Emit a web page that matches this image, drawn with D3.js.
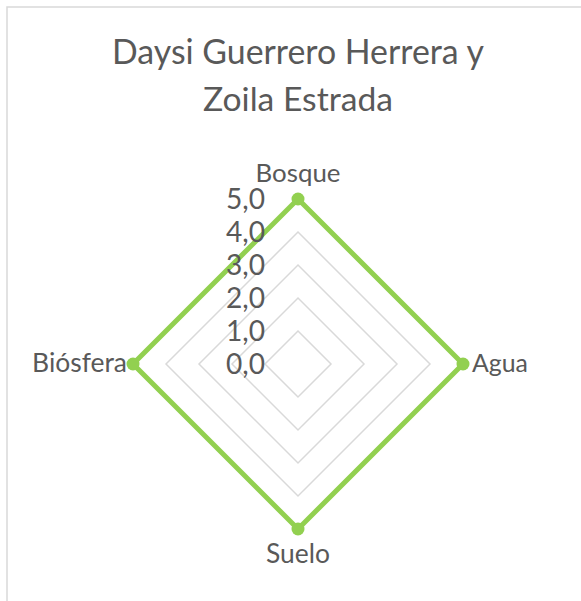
<!DOCTYPE html>
<html>
<head>
<meta charset="utf-8">
<script src="https://cdn.jsdelivr.net/npm/d3@7"></script>
<style>
  body { margin: 0; background: #fff; }
  text { font-family: Lato, "Open Sans", sans-serif; fill: #595959; }
</style>
</head>
<body>
<div id="radar"></div>
<script>
// datos del gráfico
var titleLines = ["Daysi Guerrero Herrera y", "Zoila Estrada"];
var categories = ["Bosque", "Agua", "Suelo", "Biósfera"];
var values = [5, 5, 5, 5];
var ticks = [0, 1, 2, 3, 4, 5];
var tickLabels = ["0,0", "1,0", "2,0", "3,0", "4,0", "5,0"];

var width = 581, height = 601;
var cx = 298, cy = 364, radius = 165;

var svg = d3.select("#radar")
  .append("svg")
    .attr("width", width)
    .attr("height", height);

// marco del gráfico
svg.append("rect")
  .attr("x", 7).attr("y", 7)
  .attr("width", 620).attr("height", 640)
  .attr("fill", "none")
  .attr("stroke", "#d9d9d9")
  .attr("stroke-width", 1.5);

// ajusta el tamaño de letra para que el texto ocupe el ancho deseado
function fit(sel, target) {
  var w = sel.node().getComputedTextLength();
  var fs = parseFloat(sel.style("font-size"));
  sel.style("font-size", (fs * target / w) + "px");
}

// título
var titleBase = [64, 111];
var titleWidth = [372, 190];
titleLines.forEach(function(t, i) {
  var tt = svg.append("text")
    .attr("x", cx)
    .attr("y", titleBase[i])
    .attr("text-anchor", "middle")
    .style("font-size", "32px")
    .text(t);
  fit(tt, titleWidth[i]);
});

var g = svg.append("g")
  .attr("transform", "translate(" + cx + "," + cy + ")");

var r = d3.scaleLinear().domain([0, 5]).range([0, radius]);
var angle = d3.scaleBand().domain(categories).range([0, 2 * Math.PI]).align(0);
function ang(c) { return angle(c); }

// rejilla
var grid = d3.lineRadial()
  .angle(function(d) { return ang(d); })
  .curve(d3.curveLinearClosed);

g.selectAll(".grid")
  .data(ticks.filter(function(t) { return t > 0; }))
  .enter()
  .append("path")
    .attr("d", function(t) { return grid.radius(r(t))(categories); })
    .attr("fill", "none")
    .attr("stroke", "#d9d9d9")
    .attr("stroke-width", 1.5);

// serie
var line = d3.lineRadial()
  .angle(function(d, i) { return ang(categories[i]); })
  .radius(function(d) { return r(d); })
  .curve(d3.curveLinearClosed);

g.append("path")
  .datum(values)
  .attr("d", line)
  .attr("fill", "none")
  .attr("stroke", "#92d050")
  .attr("stroke-width", 5)
  .attr("stroke-linejoin", "miter");

g.selectAll(".dot")
  .data(values)
  .enter()
  .append("circle")
    .attr("cx", function(d, i) { return r(d) * Math.sin(ang(categories[i])); })
    .attr("cy", function(d, i) { return -r(d) * Math.cos(ang(categories[i])); })
    .attr("r", 6.5)
    .attr("fill", "#92d050");

// etiquetas del eje de valores
g.selectAll(".tick")
  .data(ticks)
  .enter()
  .append("text")
    .attr("x", -33)
    .attr("y", function(t) { return -r(t); })
    .attr("dy", "0.36em")
    .attr("text-anchor", "end")
    .style("font-size", "28px")
    .text(function(t, i) { return tickLabels[i]; })
    .each(function() { fit(d3.select(this), 39); });

// etiquetas de categorías
var labelWidth = {"Bosque": 85, "Agua": 56, "Suelo": 64, "Biósfera": 95};
categories.forEach(function(c) {
  var a = ang(c);
  var R = r(5);
  var x = R * Math.sin(a), y = -R * Math.cos(a);
  var t = g.append("text").style("font-size", "25px").text(c);
  if (Math.abs(Math.sin(a)) < 0.01) {
    t.attr("x", x).attr("text-anchor", "middle");
    if (y < 0) t.attr("y", y - 17);
    else t.attr("y", y + 34);
  } else if (x > 0) {
    t.attr("x", x + 9).attr("y", y + 8).attr("text-anchor", "start");
  } else {
    t.attr("x", x - 6).attr("y", y + 8).attr("text-anchor", "end");
  }
  fit(t, labelWidth[c]);
});
</script>
</body>
</html>
